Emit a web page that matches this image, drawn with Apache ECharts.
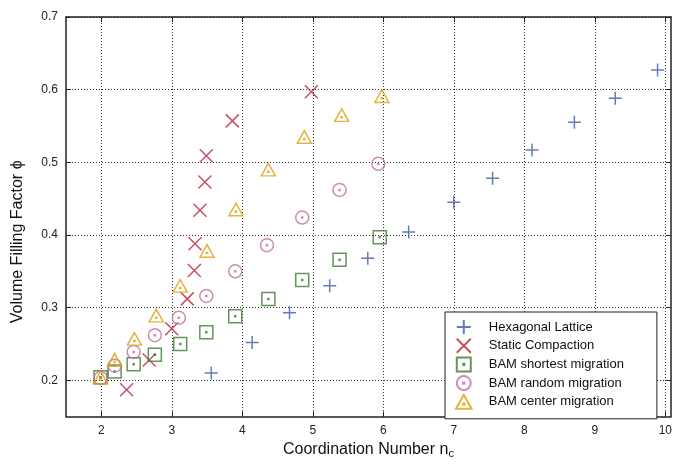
<!DOCTYPE html>
<html>
<head>
<meta charset="utf-8">
<script src="https://cdn.jsdelivr.net/npm/echarts@6/dist/echarts.min.js"></script>
<style>
  html, body { margin: 0; padding: 0; background: #fff; }
  #main { width: 675px; height: 464px; }
</style>
</head>
<body>
<div id="main"></div>
<script>
// data: [coordination number, volume filling factor]
var hexagonal = [[3.56,0.210],[4.14,0.252],[4.67,0.293],[5.24,0.330],[5.78,0.368],[6.36,0.404],
                 [7.00,0.445],[7.55,0.478],[8.11,0.517],[8.71,0.555],[9.29,0.588],[9.89,0.627]];
var staticComp = [[2.36,0.187],[2.68,0.228],[3.00,0.271],[3.22,0.312],[3.32,0.351],[3.33,0.388],
                  [3.40,0.434],[3.47,0.473],[3.49,0.509],[3.86,0.557],[4.98,0.597]];
var bamShortest = [[1.99,0.204],[2.19,0.212],[2.46,0.222],[2.76,0.235],[3.12,0.250],[3.49,0.266],
                   [3.90,0.288],[4.37,0.312],[4.85,0.338],[5.38,0.366],[5.95,0.397]];
var bamRandom = [[1.99,0.203],[2.19,0.220],[2.46,0.239],[2.76,0.262],[3.10,0.286],[3.49,0.316],
                 [3.90,0.350],[4.35,0.386],[4.85,0.424],[5.38,0.462],[5.93,0.498]];
var bamCenter = [[1.99,0.204],[2.19,0.228],[2.47,0.257],[2.78,0.289],[3.12,0.330],[3.50,0.378],
                 [3.91,0.435],[4.37,0.490],[4.88,0.535],[5.41,0.565],[5.98,0.591]];

var xTicks = [2, 3, 4, 5, 6, 7, 8, 9, 10];
var yTicks = [0.2, 0.3, 0.4, 0.5, 0.6, 0.7];

var dot = 'M4.6,4.6L5.4,4.6L5.4,5.4L4.6,5.4Z';
var symPlus = 'path://M0,5L10,5M5,0L5,10';
var symCross = 'path://M0,0L10,10M10,0L0,10';
var symSquare = 'path://M0,0L10,0L10,10L0,10Z' + dot;
var symCircle = 'path://M5,0A5,5,0,1,1,5,10A5,5,0,1,1,5,0Z' + dot;
var symTri = 'path://M5,0L10,9L0,9Z' + 'M4.6,5.6L5.4,5.6L5.4,6.4L4.6,6.4Z';

var font = 'Liberation Sans, Arial, sans-serif';

function scatter(name, data, symbol, size, color) {
    return {
        name: name,
        type: 'scatter',
        data: data,
        symbol: symbol,
        symbolSize: size,
        itemStyle: { color: 'rgba(0,0,0,0)', borderColor: color, borderWidth: 1.5 },
        emphasis: { disabled: true }
    };
}

function valueAxis(pos, min, max, ticks, show) {
    return {
        type: 'value',
        position: pos,
        min: min,
        max: max,
        axisLine: { show: true, onZero: false, lineStyle: { color: '#222', width: 1.5 } },
        axisTick: { show: true, inside: true, length: 5, customValues: ticks, lineStyle: { color: '#222' } },
        axisLabel: { show: show, customValues: ticks, color: '#222', fontSize: 12, fontFamily: font,
                     margin: 8, formatter: function (v) { return String(+v.toFixed(1)); } },
        splitLine: { show: show, lineStyle: { color: '#333', type: [1, 2], width: 1 } }
    };
}

var chart = echarts.init(document.getElementById('main'));

var xMain = valueAxis('bottom', 1.5, 10.08, xTicks, true);
xMain.name = 'Coordination Number n{sub|c}';
xMain.nameLocation = 'middle';
xMain.nameGap = 22;
xMain.nameTextStyle = { fontSize: 16, fontFamily: font, color: '#111',
    rich: { sub: { fontSize: 11, fontFamily: font, color: '#111', verticalAlign: 'bottom', padding: [8, 0, 0, 0] } } };

var yMain = valueAxis('left', 0.15, 0.7, yTicks, true);
yMain.name = 'Volume Filling Factor ϕ';
yMain.nameLocation = 'middle';
yMain.nameGap = 40;
yMain.nameTextStyle = { fontSize: 16, fontFamily: font, color: '#111', padding: [0, 50, 0, 0] };

chart.setOption({
    backgroundColor: '#fff',
    animation: false,
    grid: { left: 66, right: 4, top: 17, bottom: 42 },
    xAxis: [xMain, valueAxis('top', 1.5, 10.08, xTicks, false)],
    yAxis: [yMain, valueAxis('right', 0.15, 0.7, yTicks, false)],
    legend: {
        orient: 'vertical',
        left: 445,
        top: 312,
        padding: [7, 33, 9, 10],
        itemWidth: 40,
        itemHeight: 14,
        itemGap: 2.7,
        backgroundColor: '#fff',
        borderColor: '#222',
        borderWidth: 1,
        textStyle: { fontSize: 13, fontFamily: font, color: '#111' },
        data: ['Hexagonal Lattice', 'Static Compaction', 'BAM shortest migration',
               'BAM random migration', 'BAM center migration']
    },
    series: [
        scatter('Hexagonal Lattice', hexagonal, symPlus, 13, '#3f5b9c'),
        scatter('Static Compaction', staticComp, symCross, 13, '#b8263f'),
        scatter('BAM shortest migration', bamShortest, symSquare, 13, '#3d7a2e'),
        scatter('BAM random migration', bamRandom, symCircle, 13, '#c0709e'),
        scatter('BAM center migration', bamCenter, symTri, [14, 12.6], '#dba111')
    ]
});
</script>
</body>
</html>
